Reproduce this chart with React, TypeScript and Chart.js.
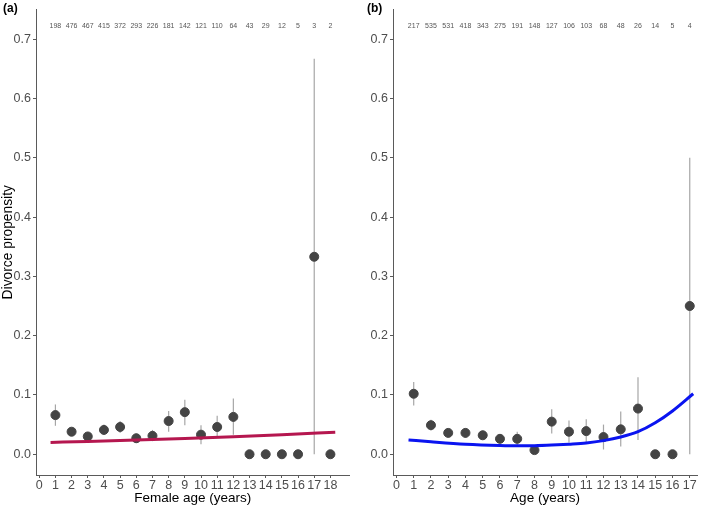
import React, { useEffect, useRef } from "react";
import { Chart, registerables } from "chart.js";

Chart.register(...registerables);

// ---------- Panel (a): female age ----------
const ageA = [1, 2, 3, 4, 5, 6, 7, 8, 9, 10, 11, 12, 13, 14, 15, 16, 17, 18];
const propA = [0.066, 0.038, 0.030, 0.041, 0.046, 0.027, 0.031, 0.056, 0.071, 0.033, 0.046, 0.063, 0, 0, 0, 0, 0.333, 0];
const loA = [0.048, 0.032, 0.025, 0.033, 0.036, 0.019, 0.022, 0.038, 0.049, 0.017, 0.028, 0.033, 0, 0, 0, 0, 0, 0];
const hiA = [0.084, 0.045, 0.036, 0.050, 0.056, 0.035, 0.041, 0.073, 0.092, 0.049, 0.065, 0.094, 0, 0, 0, 0, 0.667, 0];
const countsA = [198, 476, 467, 415, 372, 293, 226, 181, 142, 121, 110, 64, 43, 29, 12, 5, 3, 2];
const fitXA = [0.7, 3, 6, 9, 12, 15, 18.3];
const fitYA = [0.020, 0.0216, 0.024, 0.0267, 0.0297, 0.033, 0.037];
const xTicksA = [0, 1, 2, 3, 4, 5, 6, 7, 8, 9, 10, 11, 12, 13, 14, 15, 16, 17, 18];

// ---------- Panel (b): age ----------
const ageB = [1, 2, 3, 4, 5, 6, 7, 8, 9, 10, 11, 12, 13, 14, 15, 16, 17];
const propB = [0.102, 0.049, 0.036, 0.036, 0.032, 0.026, 0.026, 0.007, 0.055, 0.038, 0.039, 0.029, 0.042, 0.077, 0, 0, 0.25];
const loB = [0.082, 0.040, 0.029, 0.028, 0.025, 0.018, 0.015, 0.002, 0.035, 0.020, 0.020, 0.008, 0.013, 0.024, 0, 0, 0];
const hiB = [0.122, 0.058, 0.043, 0.044, 0.040, 0.034, 0.038, 0.013, 0.076, 0.057, 0.059, 0.050, 0.072, 0.130, 0, 0, 0.5];
const countsB = [217, 535, 531, 418, 343, 275, 191, 148, 127, 106, 103, 68, 48, 26, 14, 5, 4];
const fitXB = [0.7, 2, 4, 6, 7, 8, 9, 10, 11, 12, 13, 14, 15, 16, 17.2];
const fitYB = [0.024, 0.021, 0.017, 0.0148, 0.0143, 0.0145, 0.0155, 0.017, 0.019, 0.023, 0.029, 0.038, 0.053, 0.073, 0.102];
const xTicksB = [0, 1, 2, 3, 4, 5, 6, 7, 8, 9, 10, 11, 12, 13, 14, 15, 16, 17];

const yTicks = [0, 0.1, 0.2, 0.3, 0.4, 0.5, 0.6, 0.7];
const countLabelY = 0.722;

const FONT = "Arial, 'Liberation Sans', sans-serif";
const AXIS_COLOR = "#5a5a5a";
const TEXT_COLOR = "#4d4d4d";

type PanelProps = {
  xs: number[];
  ys: number[];
  lo: number[];
  hi: number[];
  counts: number[];
  fitX: number[];
  fitY: number[];
  fitColor: string;
  xTicks: number[];
  xMax: number;
  xTitle: string;
  yTitle: string | null;
  yAxisWidth: number;
  padRight: number;
  width: number;
};

function Panel(p: PanelProps) {
  const ref = useRef<HTMLCanvasElement | null>(null);
  useEffect(() => {
    if (!ref.current) return;
    const overlay = {
      id: "overlay",
      beforeDatasetsDraw(chart: any) {
        const ctx = chart.ctx;
        const xs = chart.scales.x;
        const ysc = chart.scales.y;
        ctx.save();
        ctx.strokeStyle = "#a6a6a6";
        ctx.lineWidth = 1.2;
        p.xs.forEach((x, i) => {
          if (p.hi[i] - p.lo[i] <= 0) return;
          const px = xs.getPixelForValue(x);
          ctx.beginPath();
          ctx.moveTo(px, ysc.getPixelForValue(p.lo[i]));
          ctx.lineTo(px, ysc.getPixelForValue(p.hi[i]));
          ctx.stroke();
        });
        ctx.restore();
      },
      afterDraw(chart: any) {
        const ctx = chart.ctx;
        const xs = chart.scales.x;
        const ysc = chart.scales.y;
        ctx.save();
        ctx.fillStyle = "#555555";
        ctx.font = `7px ${FONT}`;
        ctx.textAlign = "center";
        ctx.textBaseline = "middle";
        p.xs.forEach((x, i) => {
          ctx.fillText(String(p.counts[i]), xs.getPixelForValue(x), ysc.getPixelForValue(countLabelY));
        });
        ctx.restore();
      },
    };
    const chart = new Chart(ref.current, {
      type: "scatter",
      data: {
        datasets: [
          {
            type: "line",
            data: p.fitX.map((x, i) => ({ x, y: p.fitY[i] })),
            borderColor: p.fitColor,
            borderWidth: 3,
            pointRadius: 0,
            tension: 0.4,
            cubicInterpolationMode: "monotone",
            fill: false,
            order: 1,
          } as any,
          {
            type: "scatter",
            data: p.xs.map((x, i) => ({ x, y: p.ys[i] })),
            backgroundColor: "#444444",
            borderColor: "#444444",
            pointRadius: 4.5,
            pointHoverRadius: 4.5,
            order: 2,
          } as any,
        ],
      },
      options: {
        animation: false,
        responsive: false,
        maintainAspectRatio: false,
        events: [],
        layout: { padding: { top: 5, right: p.padRight, left: 0, bottom: 0 } },
        plugins: { legend: { display: false }, tooltip: { enabled: false } },
        scales: {
          x: {
            type: "linear",
            min: -0.2,
            max: p.xMax,
            afterBuildTicks: (s: any) => {
              s.ticks = p.xTicks.map((v) => ({ value: v }));
            },
            afterFit: (s: any) => {
              s.height = 31;
            },
            ticks: {
              autoSkip: false,
              maxRotation: 0,
              padding: 0,
              color: TEXT_COLOR,
              font: { family: FONT, size: 12.5 },
              callback: (v: any) => String(v),
            },
            grid: { display: true, drawOnChartArea: false, drawTicks: true, tickLength: 3, color: AXIS_COLOR },
            border: { display: true, color: AXIS_COLOR, width: 1 },
            title: {
              display: true,
              text: p.xTitle,
              color: "#000000",
              font: { family: FONT, size: 13.5 },
              padding: { top: 0, bottom: 0 },
            },
          },
          y: {
            type: "linear",
            min: -0.035,
            max: 0.75,
            afterBuildTicks: (s: any) => {
              s.ticks = yTicks.map((v) => ({ value: v }));
            },
            afterFit: (s: any) => {
              s.width = p.yAxisWidth;
            },
            ticks: {
              padding: 2,
              color: TEXT_COLOR,
              font: { family: FONT, size: 12.5 },
              callback: (v: any) => Number(v).toFixed(1),
            },
            grid: { display: true, drawOnChartArea: false, drawTicks: true, tickLength: 3, color: AXIS_COLOR },
            border: { display: true, color: AXIS_COLOR, width: 1 },
            title: {
              display: !!p.yTitle,
              text: p.yTitle || "",
              color: "#000000",
              font: { family: FONT, size: 13.8 },
              padding: { top: 0, bottom: 0 },
            },
          },
        },
      } as any,
      plugins: [overlay],
    });
    return () => chart.destroy();
  }, []);
  return <canvas ref={ref} width={p.width} height={506} style={{ width: p.width, height: 506, display: "block" }} />;
}

export default function App() {
  return (
    <div style={{ position: "absolute", left: 0, top: 0, width: 709, height: 506, background: "#ffffff", fontFamily: FONT }}>
      <div style={{ position: "absolute", left: 0, top: 0 }}>
        <Panel
          xs={ageA}
          ys={propA}
          lo={loA}
          hi={hiA}
          counts={countsA}
          fitX={fitXA}
          fitY={fitYA}
          fitColor="#b5174f"
          xTicks={xTicksA}
          xMax={19.18}
          xTitle="Female age (years)"
          yTitle="Divorce propensity"
          yAxisWidth={36}
          padRight={5}
          width={355}
        />
      </div>
      <div style={{ position: "absolute", left: 355, top: 0 }}>
        <Panel
          xs={ageB}
          ys={propB}
          lo={loB}
          hi={hiB}
          counts={countsB}
          fitX={fitXB}
          fitY={fitYB}
          fitColor="#0a14f0"
          xTicks={xTicksB}
          xMax={17.42}
          xTitle="Age (years)"
          yTitle={null}
          yAxisWidth={38}
          padRight={12}
          width={354}
        />
      </div>
      <div style={{ position: "absolute", left: 3, top: 1, fontSize: 12, fontWeight: "bold", color: "#000" }}>(a)</div>
      <div style={{ position: "absolute", left: 367, top: 1, fontSize: 12, fontWeight: "bold", color: "#000" }}>(b)</div>
    </div>
  );
}
